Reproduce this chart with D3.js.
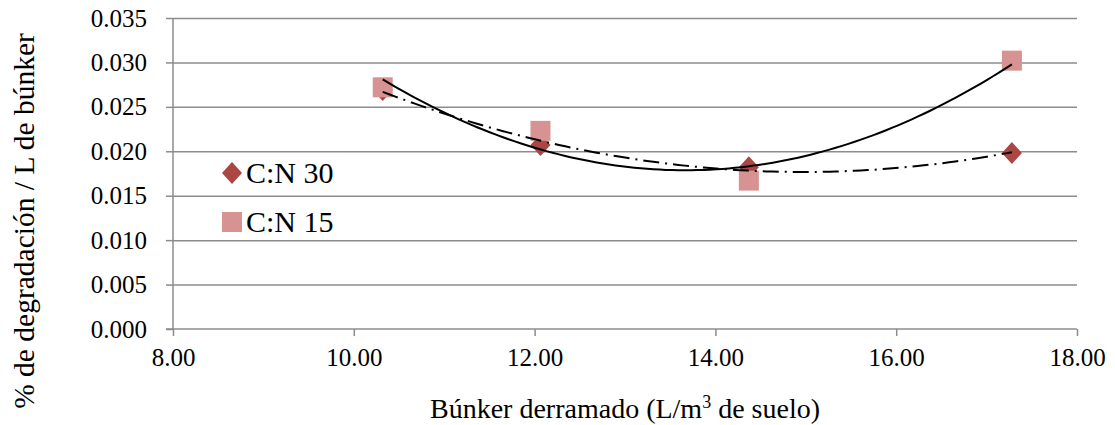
<!DOCTYPE html>
<html><head><meta charset="utf-8">
<script src="https://cdn.jsdelivr.net/npm/d3@7"></script>
<style>
html,body{margin:0;padding:0;background:#fff;}
</style></head>
<body><svg id="c" width="1115" height="425"></svg>
<script>
// ---- data ----
const seriesNames = ["C:N 30", "C:N 15"];
const xValues = [10.32, 12.065, 14.37, 17.28];
const cn30 = [0.0269, 0.0207, 0.0182, 0.0198];
const cn15 = [0.0272, 0.0223, 0.0167, 0.0302];
const xTicks = [8, 10, 12, 14, 16, 18];
const yTicks = [0, 0.005, 0.010, 0.015, 0.020, 0.025, 0.030, 0.035];
const xTitle = "Búnker derramado (L/m";
const xTitleSup = "3";
const xTitleEnd = " de suelo)";
const yTitle = "% de degradación / L de búnker";

const colDiamond = "#AA4643";
const colSquare = "#D69392";
const gridCol = "#8C8C8C";
const FONT = "'Liberation Serif', Tinos, 'Times New Roman', Times, 'Nimbus Roman', 'Noto Serif', 'DejaVu Serif', serif";

const svg = d3.select("#c");
const x = d3.scaleLinear().domain([8, 18]).range([173, 1077]);
const y = d3.scaleLinear().domain([0, 0.035]).range([329, 18]);

// gridlines
svg.append("g").attr("transform", `translate(${x(8)},0)`)
  .call(d3.axisLeft(y).tickValues(yTicks.filter(v => v > 0)).tickSize(-(x(18) - x(8))).tickFormat(""))
  .call(g => g.select(".domain").remove())
  .call(g => g.selectAll("line").attr("stroke", gridCol).attr("stroke-width", 1.5));

// y axis
const ya = svg.append("g").attr("transform", `translate(${x(8)},0)`)
  .call(d3.axisLeft(y).tickValues(yTicks).tickSize(7).tickPadding(19).tickFormat(d3.format(".3f")));
ya.attr("font-family", FONT);
ya.select(".domain").attr("stroke", gridCol).attr("stroke-width", 1.5).attr("d", `M0,${y(0.035)}V${y(0)}`);
ya.selectAll("line").attr("stroke", gridCol).attr("stroke-width", 1.5);
ya.selectAll("text").attr("font-size", 25).attr("fill", "#000").style("font-family", FONT);

// x axis
const xa = svg.append("g").attr("transform", `translate(0,${y(0)})`)
  .call(d3.axisBottom(x).tickValues(xTicks).tickSize(7).tickPadding(12).tickFormat(d3.format(".2f")));
xa.attr("font-family", FONT);
xa.select(".domain").attr("stroke", gridCol).attr("stroke-width", 1.5).attr("d", `M${x(8) - 7},0H${x(18)}`);
xa.selectAll("line").attr("stroke", gridCol).attr("stroke-width", 1.5);
xa.selectAll("text").attr("font-size", 25).attr("fill", "#000").style("font-family", FONT);

// titles
const xt = svg.append("text").attr("x", 625).attr("y", 418).attr("text-anchor", "middle")
  .attr("font-size", 28).attr("fill", "#000").style("font-family", FONT);
xt.append("tspan").text(xTitle);
xt.append("tspan").attr("dy", -10).attr("font-size", 18).text(xTitleSup);
xt.append("tspan").attr("dy", 10).text(xTitleEnd);

svg.append("text").attr("transform", "translate(34,221) rotate(-90)")
  .attr("text-anchor", "middle").attr("font-size", 29.5).attr("fill", "#000")
  .style("font-family", FONT).text(yTitle);

// markers
const diamond = "M0,-11L10,0L0,11L-10,0Z";
const square = "M-10,-10H10V10H-10Z";
const pts30 = xValues.map((v, i) => [v, cn30[i]]);
const pts15 = xValues.map((v, i) => [v, cn15[i]]);

svg.append("g").selectAll("path").data(pts30).join("path")
  .attr("d", diamond).attr("fill", colDiamond)
  .attr("transform", d => `translate(${x(d[0])},${y(d[1])})`);
svg.append("g").selectAll("path").data(pts15).join("path")
  .attr("d", square).attr("fill", colSquare)
  .attr("transform", d => `translate(${x(d[0])},${y(d[1])})`);

// quadratic least-squares trendlines
function quadFit(pts) {
  let S = Array.from({length: 5}, () => 0), T = [0, 0, 0];
  pts.forEach(([a, b]) => {
    for (let k = 0; k < 5; k++) S[k] += Math.pow(a, k);
    for (let k = 0; k < 3; k++) T[k] += b * Math.pow(a, k);
  });
  const M = [[S[0], S[1], S[2], T[0]], [S[1], S[2], S[3], T[1]], [S[2], S[3], S[4], T[2]]];
  for (let i = 0; i < 3; i++) {
    for (let j = i + 1; j < 3; j++) {
      const f = M[j][i] / M[i][i];
      for (let k = i; k < 4; k++) M[j][k] -= f * M[i][k];
    }
  }
  const c = [0, 0, 0];
  for (let i = 2; i >= 0; i--) {
    let s = M[i][3];
    for (let k = i + 1; k < 3; k++) s -= M[i][k] * c[k];
    c[i] = s / M[i][i];
  }
  return t => c[0] + c[1] * t + c[2] * t * t;
}
function trend(pts) {
  const f = quadFit(pts);
  const lo = d3.min(pts, d => d[0]), hi = d3.max(pts, d => d[0]);
  return d3.range(0, 101).map(i => { const t = lo + (hi - lo) * i / 100; return [t, f(t)]; });
}
const line = d3.line().x(d => x(d[0])).y(d => y(d[1]));
svg.append("path").attr("d", line(trend(pts15))).attr("fill", "none")
  .attr("stroke", "#000").attr("stroke-width", 2);
svg.append("path").attr("d", line(trend(pts30))).attr("fill", "none")
  .attr("stroke", "#000").attr("stroke-width", 2).attr("stroke-dasharray", "16,6,2,6");

// legend
const leg = svg.append("g");
leg.append("path").attr("d", diamond).attr("fill", colDiamond).attr("transform", "translate(232,173)");
leg.append("text").attr("x", 246).attr("y", 183).attr("font-size", 30).attr("fill", "#000")
  .style("font-family", FONT).text(seriesNames[0]);
leg.append("path").attr("d", square).attr("fill", colSquare).attr("transform", "translate(232,222)");
leg.append("text").attr("x", 246).attr("y", 232).attr("font-size", 30).attr("fill", "#000")
  .style("font-family", FONT).text(seriesNames[1]);
</script></body></html>
